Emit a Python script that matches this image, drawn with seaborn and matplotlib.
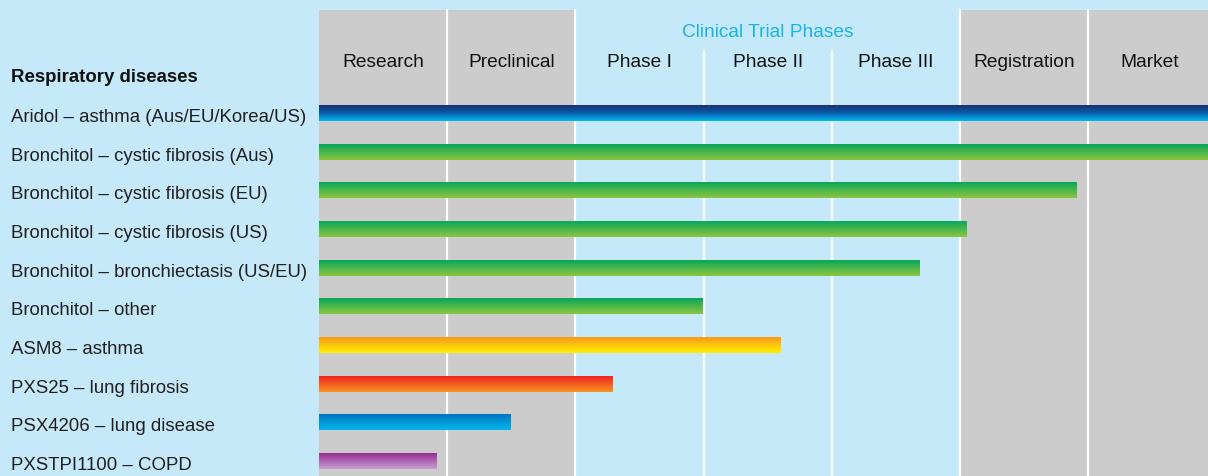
import numpy as np
import pandas as pd
import matplotlib
matplotlib.use("Agg")
import matplotlib.pyplot as plt
import matplotlib.transforms as mtransforms
from matplotlib.colors import LinearSegmentedColormap
import seaborn as sns

# ---------------- data ----------------
projects = [
    "Aridol – asthma (Aus/EU/Korea/US)",
    "Bronchitol – cystic fibrosis (Aus)",
    "Bronchitol – cystic fibrosis (EU)",
    "Bronchitol – cystic fibrosis (US)",
    "Bronchitol – bronchiectasis (US/EU)",
    "Bronchitol – other",
    "ASM8 – asthma",
    "PXS25 – lung fibrosis",
    "PSX4206 – lung disease",
    "PXSTPI1100 – COPD",
]
# progress measured in pipeline stages (1 unit = one stage column)
stage_reached = [7.0, 7.0, 5.91, 5.05, 4.68, 2.99, 3.60, 2.29, 1.49, 0.92]
phases = ["Research", "Preclinical", "Phase I", "Phase II", "Phase III",
          "Registration", "Market"]
group_title = "Clinical Trial Phases"
section_title = "Respiratory diseases"

# gradient colours (top -> bottom) for each bar
navy = ["#1b2a6b", "#0a5aa6", "#00b9f2"]
green = ["#00a55b", "#8cc63f"]
gradients = [
    navy, green, green, green, green, green,
    ["#f7941d", "#fff200"],
    ["#ed1c24", "#f7941d"],
    ["#0072bc", "#00b6ef"],
    ["#92278f", "#c6a0cf"],
]

# ---------------- style ----------------
sns.set_theme(style="white")
plt.rcParams["font.family"] = ["Liberation Sans", "DejaVu Sans"]

BG = "#c6e9f9"
GRAY = "#cccccc"
W, H = 1208, 477
ROW_PX = 38.67
fig = plt.figure(figsize=(W / 100, H / 100), dpi=100, facecolor=BG)
ax = fig.add_axes([319 / W, 0, (W - 319) / W, 1])
ax.set_facecolor(BG)

df = pd.DataFrame({"project": projects, "stage": stage_reached})
sns.barplot(data=df, x="stage", y="project", orient="h", order=projects,
            width=0.414, color="white", linewidth=0, ax=ax)
bars = list(ax.patches)

XMAX = 6.934
YLIM = ((H - 114) / ROW_PX, -114 / ROW_PX)

# column backgrounds
top_gray = 1 - 11 / H
top_sep = 1 - 52 / H
for k in (0, 1, 5, 6):
    ax.axvspan(k, k + 1, ymin=0, ymax=top_gray, color=GRAY, lw=0, zorder=0)
for k in (1, 2, 5, 6):
    ax.axvline(k, ymin=0, ymax=top_gray, color="white", lw=1.6, zorder=0.5)
for k in (3, 4):
    ax.axvline(k, ymin=0, ymax=top_sep, color="white", lw=1.6, zorder=0.5)

# gradient fills clipped to each bar
grad = np.linspace(0, 1, 128).reshape(-1, 1)
for patch, stops in zip(bars, gradients):
    x0, y0 = patch.get_x(), patch.get_y()
    w, h = patch.get_width(), patch.get_height()
    cmap = LinearSegmentedColormap.from_list("g", stops)
    im = ax.imshow(grad, cmap=cmap, aspect="auto", origin="upper",
                   extent=(x0, x0 + w, y0 + h, y0), zorder=2,
                   interpolation="bilinear")
    im.set_clip_path(patch)
    patch.set_facecolor("none")

ax.set_xlim(0, XMAX)
ax.set_ylim(*YLIM)
ax.set_axis_off()

# headers (baseline aligned)
hdr_tr = mtransforms.blended_transform_factory(ax.transData, ax.transAxes)
for k, name in enumerate(phases):
    cx = k + 0.5 if k < 6 else 6.48
    ax.text(cx, 1 - 67 / H, name, transform=hdr_tr, ha="center", va="baseline",
            fontsize=13.8, color="#111111", clip_on=False)
ax.text(3.5, 1 - 37 / H, group_title, transform=hdr_tr, ha="center",
        va="baseline", fontsize=13.8, color="#1ab3e8", clip_on=False)

# row labels (baseline ~8 px below the bar centre)
lab_tr = mtransforms.blended_transform_factory(fig.transFigure, ax.transData)
for i, name in enumerate(projects):
    ax.text(11 / W, i + 8 / ROW_PX, name, transform=lab_tr, ha="left",
            va="baseline", fontsize=13.4, color="#231f20", clip_on=False)
fig.text(11 / W, 1 - 82 / H, section_title, ha="left", va="baseline",
         fontsize=13.4, fontweight="bold", color="#111111")

fig.savefig("out.png", dpi=100, facecolor=BG)
